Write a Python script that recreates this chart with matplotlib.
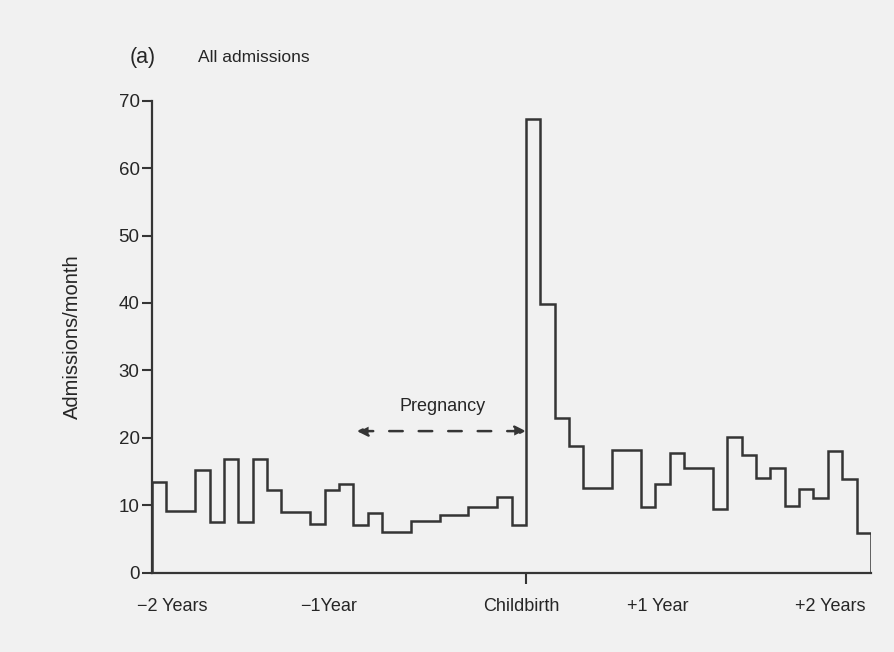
"""Monthly psychiatric admissions in the two years around childbirth."""

import matplotlib

matplotlib.use("Agg")
import matplotlib.pyplot as plt
from matplotlib.transforms import ScaledTranslation


# Bin edges in months relative to childbirth and admissions per month in each bin.
month_edges = [
    -26, -25, -23, -22, -21, -20, -19, -18, -17, -15, -14, -13, -12, -11,
    -10, -8, -6, -4, -2, -1, 0,
    1, 2, 3, 4, 6, 8, 9, 10, 11, 13, 14, 15, 16, 17, 18, 19, 20, 21, 22, 23, 24,
]
admissions = [
    13.5, 9.2, 15.3, 7.5, 16.8, 7.5, 16.8, 12.2, 9.0, 7.2, 12.2, 13.1, 7.1,
    8.9, 6.1, 7.6, 8.5, 9.7, 11.3, 7.1,
    67.3, 39.8, 23.0, 18.8, 12.6, 18.2, 9.8, 13.1, 17.8, 15.5, 9.5, 20.1,
    17.5, 14.1, 15.5, 9.9, 12.4, 11.1, 18.0, 13.9, 5.9,
]

y_ticks = [0, 10, 20, 30, 40, 50, 60, 70]
period_labels = ["\u22122 Years", "\u22121Year", "+1 Year", "+2 Years"]
period_positions = [-24.6, -13.7, 9.2, 21.2]
pregnancy_span = (-11.75, 0)
pregnancy_level = 21

INK = "#353535"
TEXT = "#262626"
PAPER = "#f1f1f1"


def main() -> None:
    plt.rcParams.update(
        {
            "font.family": ["Liberation Sans", "DejaVu Sans"],
            "font.size": 13,
            "text.color": TEXT,
            "axes.labelcolor": TEXT,
            "axes.edgecolor": INK,
            "xtick.color": INK,
            "ytick.color": INK,
            "xtick.labelcolor": TEXT,
            "ytick.labelcolor": TEXT,
        }
    )
    fig = plt.figure(figsize=(8.94, 6.52), dpi=100, facecolor=PAPER)
    ax = fig.add_axes([152 / 894, 79.3 / 652, 719 / 894, 472 / 652])
    ax.set_facecolor(PAPER)

    ax.stairs(admissions, month_edges, baseline=0, color=INK, linewidth=1.8)

    ax.set_xlim(month_edges[0], month_edges[-1])
    ax.set_ylim(0, 70)
    ax.spines[["top", "right"]].set_visible(False)
    for side in ("left", "bottom"):
        ax.spines[side].set_linewidth(1.6)

    ax.set_yticks(y_ticks)
    ax.tick_params(axis="y", length=7, width=1.5, pad=2, labelsize=13.5)
    ax.set_ylabel("Admissions/month", fontsize=14.5, labelpad=26)

    # only childbirth gets a tick mark; the year labels sit under the axis alone
    ax.set_xticks([0])
    ax.set_xticklabels(["Childbirth"])
    ax.set_xticks(period_positions, minor=True)
    ax.set_xticklabels(period_labels, minor=True)
    ax.tick_params(axis="x", which="major", length=8, width=1.5, pad=10, labelsize=13)
    ax.tick_params(axis="x", which="minor", length=0, pad=18, labelsize=13)
    nudge = ScaledTranslation(-5 / 100, 0, fig.dpi_scale_trans)
    for label in ax.get_xticklabels():
        label.set_transform(label.get_transform() + nudge)

    # dash pattern is in linewidth units here
    ax.annotate(
        "",
        xy=(pregnancy_span[1], pregnancy_level),
        xytext=(pregnancy_span[0], pregnancy_level),
        arrowprops=dict(
            arrowstyle="<|-|>",
            linestyle=(0, (5.4, 6.4)),
            color=INK,
            linewidth=1.8,
            mutation_scale=16,
            shrinkA=0,
            shrinkB=0,
        ),
    )
    ax.text(
        sum(pregnancy_span) / 2 + 0.1,
        pregnancy_level + 3.6,
        "Pregnancy",
        ha="center",
        va="center",
        fontsize=13,
    )

    fig.text(130 / 894, 1 - 57 / 652, "(a)", fontsize=15.5, va="center")
    fig.text(198 / 894, 1 - 57 / 652, "All admissions", fontsize=12.5, va="center")

    fig.savefig("out.png", dpi=100, facecolor=PAPER)
    plt.close(fig)


if __name__ == "__main__":
    main()
